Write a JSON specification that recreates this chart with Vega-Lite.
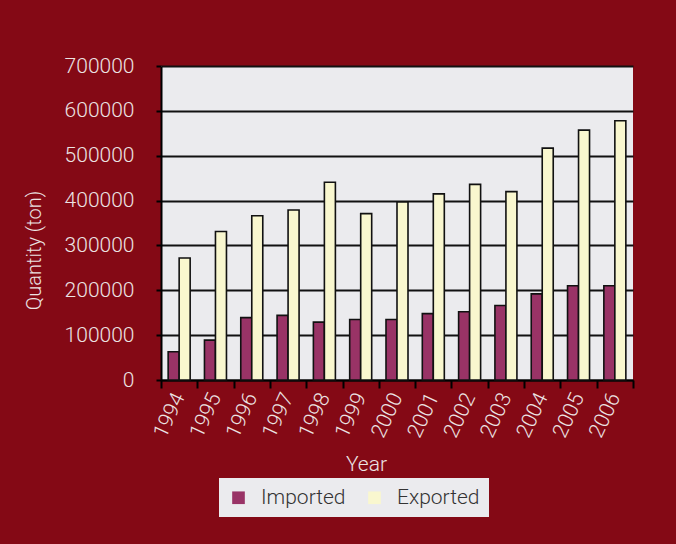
{
  "$schema": "https://vega.github.io/schema/vega-lite/v6.json",
  "width": 472,
  "height": 314,
  "autosize": {"type": "none"},
  "padding": {"left": 161, "top": 66, "right": 43, "bottom": 164},
  "background": "#840915",
  "config": {
    "view": {"fill": "#ebebee", "stroke": null},
    "font": "Roboto"
  },
  "data": {
    "values": [
      {"Year": "1994", "Type": "Imported", "Value": 63000},
      {"Year": "1995", "Type": "Imported", "Value": 89000},
      {"Year": "1996", "Type": "Imported", "Value": 139000},
      {"Year": "1997", "Type": "Imported", "Value": 144000},
      {"Year": "1998", "Type": "Imported", "Value": 129000},
      {"Year": "1999", "Type": "Imported", "Value": 135000},
      {"Year": "2000", "Type": "Imported", "Value": 135000},
      {"Year": "2001", "Type": "Imported", "Value": 148000},
      {"Year": "2002", "Type": "Imported", "Value": 152000},
      {"Year": "2003", "Type": "Imported", "Value": 166000},
      {"Year": "2004", "Type": "Imported", "Value": 192000},
      {"Year": "2005", "Type": "Imported", "Value": 210000},
      {"Year": "2006", "Type": "Imported", "Value": 210000},
      {"Year": "1994", "Type": "Exported", "Value": 272000},
      {"Year": "1995", "Type": "Exported", "Value": 331000},
      {"Year": "1996", "Type": "Exported", "Value": 366000},
      {"Year": "1997", "Type": "Exported", "Value": 379000},
      {"Year": "1998", "Type": "Exported", "Value": 441000},
      {"Year": "1999", "Type": "Exported", "Value": 371000},
      {"Year": "2000", "Type": "Exported", "Value": 397000},
      {"Year": "2001", "Type": "Exported", "Value": 415000},
      {"Year": "2002", "Type": "Exported", "Value": 436000},
      {"Year": "2003", "Type": "Exported", "Value": 420000},
      {"Year": "2004", "Type": "Exported", "Value": 517000},
      {"Year": "2005", "Type": "Exported", "Value": 557000},
      {"Year": "2006", "Type": "Exported", "Value": 578000}
    ]
  },
  "mark": {"type": "bar", "stroke": "#111111", "strokeWidth": 1.6},
  "encoding": {
    "x": {
      "field": "Year",
      "type": "nominal",
      "scale": {"paddingInner": 0, "paddingOuter": 0},
      "axis": {
        "title": "Year",
        "tickBand": "extent",
        "grid": false,
        "labelAngle": -65,
        "labelFontSize": 21,
        "labelFontWeight": 300,
        "labelColor": "#ece3e3",
        "labelPadding": 6,
        "domainColor": "#000000",
        "domainWidth": 2,
        "tickColor": "#000000",
        "tickWidth": 2,
        "tickSize": 8,
        "titleFontSize": 21,
        "titleFontWeight": 300,
        "titleColor": "#ece3e3",
        "titleX": 205,
        "titleY": 90,
        "titleAlign": "center",
        "titleBaseline": "alphabetic"
      }
    },
    "xOffset": {
      "field": "Type",
      "type": "nominal",
      "sort": ["Imported", "Exported"],
      "scale": {"paddingInner": 0, "paddingOuter": 0.65}
    },
    "y": {
      "field": "Value",
      "type": "quantitative",
      "scale": {"domain": [0, 700000], "nice": false},
      "axis": {
        "title": "Quantity (ton)",
        "values": [0, 100000, 200000, 300000, 400000, 500000, 600000, 700000],
        "format": "d",
        "grid": true,
        "gridColor": "#111111",
        "gridWidth": 1.8,
        "labelFontSize": 21,
        "labelFontWeight": 300,
        "labelColor": "#ece3e3",
        "labelPadding": 22,
        "domainColor": "#000000",
        "domainWidth": 2,
        "tickColor": "#000000",
        "tickWidth": 2,
        "tickSize": 5,
        "titleFontSize": 20,
        "titleFontWeight": 300,
        "titleColor": "#ece3e3",
        "titleX": -127,
        "titleY": 184,
        "titleAlign": "center",
        "titleBaseline": "middle",
        "titleAngle": -90
      }
    },
    "fill": {
      "field": "Type",
      "type": "nominal",
      "sort": ["Imported", "Exported"],
      "scale": {"domain": ["Imported", "Exported"], "range": ["#993366", "#f9f7cf"]},
      "legend": {
        "title": null,
        "orient": "none",
        "legendX": 58,
        "legendY": 412,
        "direction": "horizontal",
        "fillColor": "#ebebee",
        "padding": 9,
        "symbolType": "square",
        "symbolSize": 160,
        "symbolStrokeWidth": 0,
        "labelFontSize": 21,
        "labelFontWeight": 300,
        "labelColor": "#333333",
        "labelOffset": 12,
        "columnPadding": 18
      }
    }
  }
}
